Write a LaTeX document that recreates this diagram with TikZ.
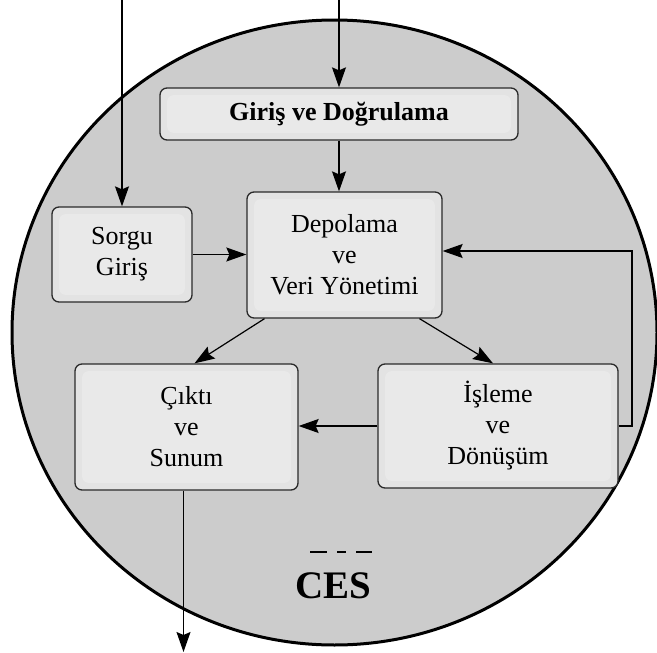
\documentclass[tikz,border=0pt]{standalone}
\usepackage{fontspec}
\setmainfont{Liberation Serif}
\usetikzlibrary{arrows.meta}
\definecolor{discfill}{HTML}{CCCCCC}
\definecolor{boxfill}{HTML}{E3E3E3}
\definecolor{boxinner}{HTML}{E9E9E9}
\definecolor{boxline}{HTML}{2A2A2A}
\begin{document}
\begin{tikzpicture}[x=1pt,y=-1pt,
  blk/.style={draw=boxline, line width=1.3pt, rounded corners=7pt, fill=boxfill,
    inner sep=0pt, align=center, font=\fontsize{26}{31}\selectfont,
    path picture={\fill[boxinner]
      ([shift={(7pt,-7pt)}]path picture bounding box.north west) rectangle
      ([shift={(-7pt,7pt)}]path picture bounding box.south east);}},
  arr/.style={line width=1.2pt, -{Stealth[length=20pt,width=14pt,inset=3pt]}},
]
\useasboundingbox (0,0) rectangle (657,653);

% system boundary
\draw[fill=discfill, line width=3pt] (334.5,332.5) ellipse [x radius=322.5, y radius=312.5];

% blocks
\node[blk, minimum width=358pt, minimum height=52pt,
      font=\bfseries\fontsize{26}{31}\selectfont] (gir) at (339,114) {Giriş ve Doğrulama};
\node[blk, minimum width=140pt, minimum height=95pt] (sor) at (122,254.5) {Sorgu\\Giriş};
\node[blk, minimum width=195pt, minimum height=126pt] (dep) at (344.5,255) {Depolama\\ve\\Veri Yönetimi};
\node[blk, minimum width=223pt, minimum height=126pt] (cik) at (186.5,427) {Çıktı\\ve\\Sunum};
\node[blk, minimum width=240pt, minimum height=124pt] (isl) at (498,426) {İşleme\\ve\\Dönüşüm};

% label
\draw[line width=1.2pt] (310,552) -- (327,552) (337,552) -- (346,552) (356,552) -- (372,552);
\node[font=\bfseries\fontsize{39}{39}\selectfont] (ces) at (333,586) {CES};

% free connector ends
\coordinate (inA) at (122,0);
\coordinate (inB) at (339,0);
\coordinate (outC) at (183,652);
\coordinate (fb) at (632,251);

% flows
\draw[arr] (inA) -- (sor.north);
\draw[arr] (inB) -- (gir.north);
\draw[arr] (gir.south) -- (gir.south |- dep.north);
\draw[arr] (sor.east) -- (dep.west |- sor.east);
\draw[arr] ([xshift=-80pt]dep.south) -- ([xshift=8pt]cik.north);
\draw[arr] ([xshift=75pt]dep.south) -- ([xshift=-5pt]isl.north);
\draw[arr] (isl.west) -- (cik.east |- isl.west);
\draw[arr] (isl.east) -| (fb) -- (dep.east |- fb);
\draw[arr] ([xshift=-3pt]cik.south) -- ([xshift=-3pt]cik.south |- outC);
\end{tikzpicture}
\end{document}
